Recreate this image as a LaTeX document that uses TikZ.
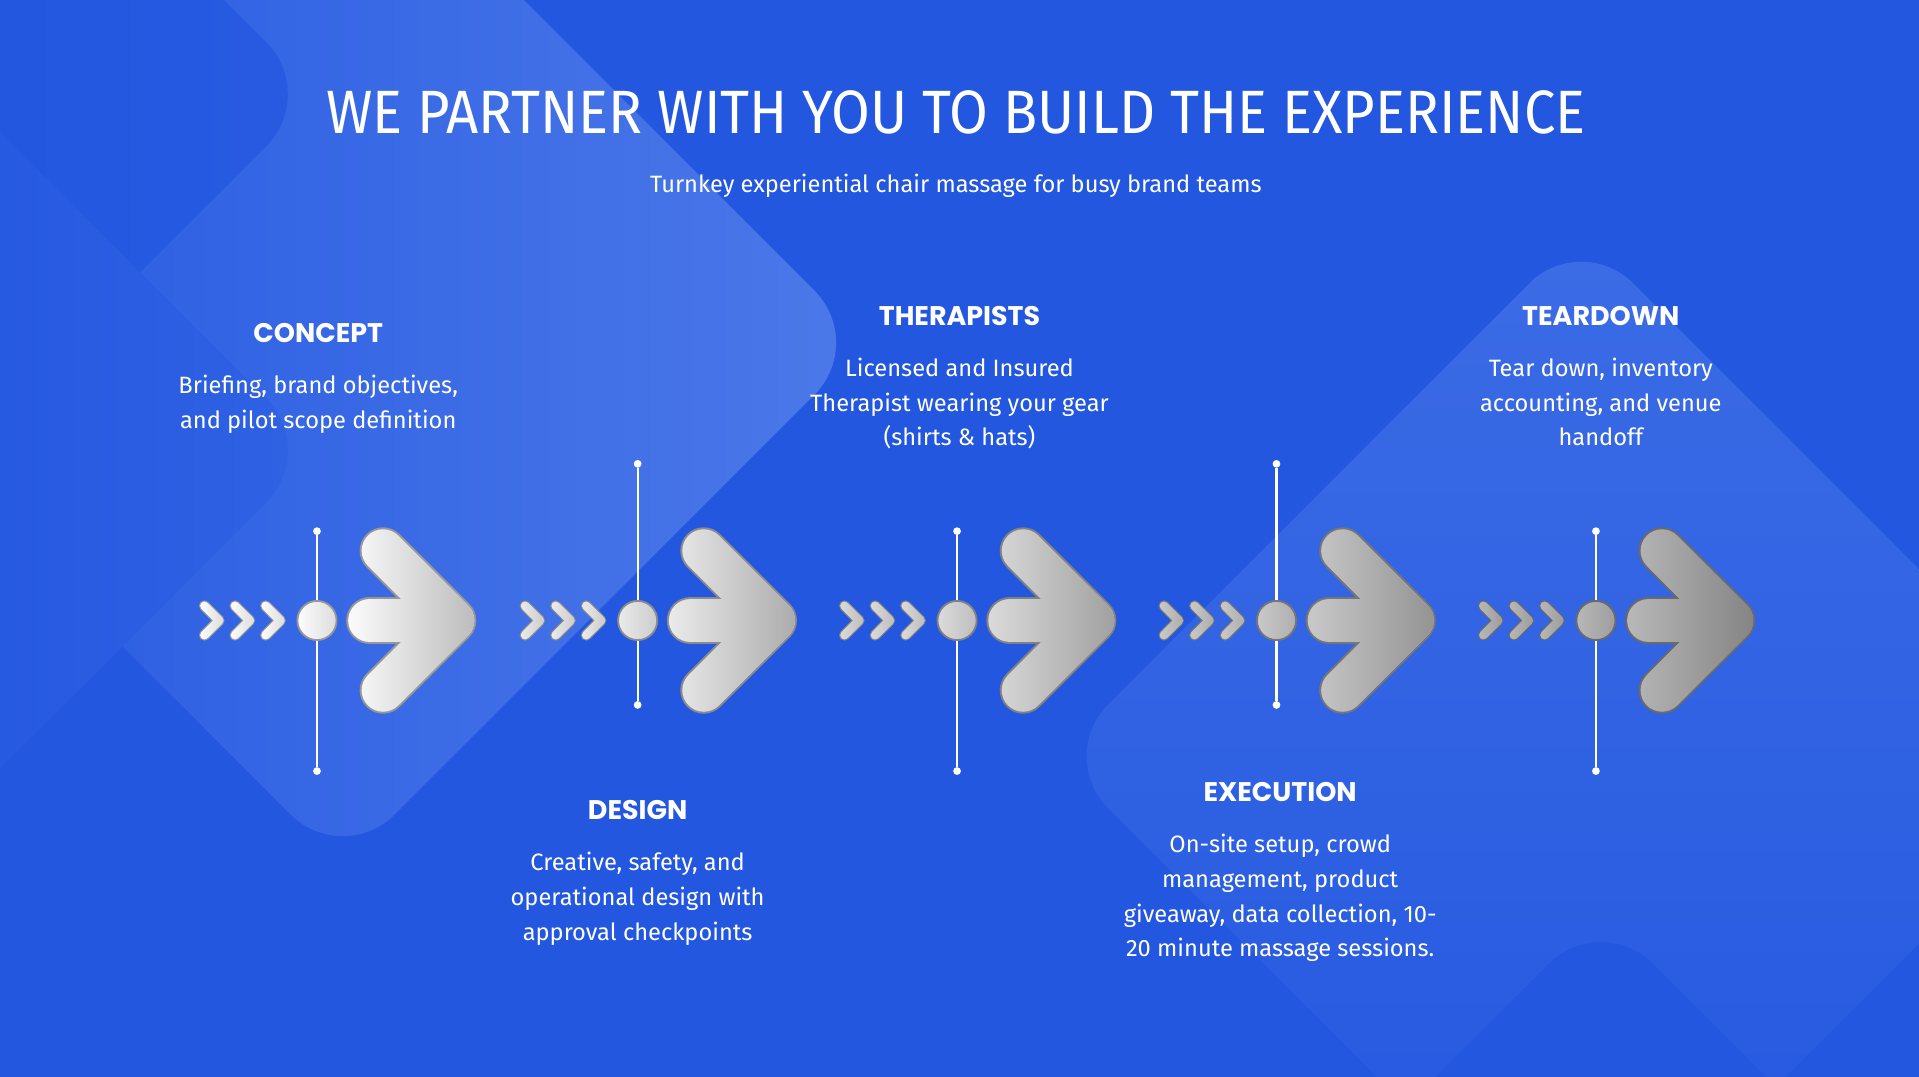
\documentclass[tikz,border=0pt]{standalone}
\usepackage{fontspec}
\setmainfont{Fira Sans}
\newfontfamily\titlefont[FakeStretch=0.917]{Fira Sans}
\newfontfamily\headfont{Poppins}
\usepackage{tikz}
\usetikzlibrary{fadings,shadings}

\definecolor{bgblue}{RGB}{35,87,224}
\definecolor{tileA}{RGB}{76,121,233}
\definecolor{tileB}{RGB}{48,97,227}
\definecolor{tileC}{RGB}{64,111,231}
\definecolor{tileD}{RGB}{72,118,232}
\definecolor{tileE}{RGB}{58,104,229}

\pgfdeclarehorizontalshading{shadeB}{100bp}{color(0bp)=(bgblue); color(60bp)=(bgblue); color(100bp)=(tileB)}
\pgfdeclarehorizontalshading{shadeC}{100bp}{color(0bp)=(bgblue); color(55bp)=(bgblue); color(100bp)=(tileC)}
\pgfdeclareverticalshading{shadeD}{100bp}{color(0bp)=(bgblue); color(25bp)=(bgblue); color(100bp)=(tileD)}
\pgfdeclareverticalshading{shadeE}{100bp}{color(0bp)=(bgblue); color(80bp)=(bgblue); color(100bp)=(tileE)}

\tikzfading[name=fadeleft, left color=transparent!100, right color=transparent!0]

% one step: #1 name, #2 x, #3 light grey, #4 dark grey, #5 top of stem, #6 foot of stem
\newcommand{\stagemark}[6]{%
  \definecolor{lt#1}{gray}{#3}%
  \definecolor{dk#1}{gray}{#4}%
  \colorlet{md#1}{lt#1!50!dk#1}%
  \colorlet{ln#1}{dk#1!80!black}%
  \node [knob] (U#1) at (#2,#5) {};
  \node [knob] (B#1) at (#2,#6) {};
  \draw [stem] (U#1) -- (B#1);
  \foreach \d in {80,55,30}
    \draw [chev, draw=ln#1, postaction={draw=lt#1, line width=4.2pt},
           postaction={draw=md#1, line width=4.2pt, path fading=fadeleft}]
      (#2-\d-12,495) -- (#2-\d,507) -- (#2-\d-12,519);
  \node [hub, left color=lt#1, right color=md#1, draw=ln#1] (P#1) at (#2,507) {};
  \draw [bigarrow, draw=ln#1, postaction={draw=lt#1, line width=21pt},
         postaction={draw=dk#1, line width=21pt, path fading=fadeleft}]
    (#2+43,507) -- (#2+111,507) (#2+54,450) -- (#2+111,507) -- (#2+54,564);
}

\tikzset{
  knob/.style={circle, fill=white, inner sep=0pt, minimum size=3.8pt},
  stem/.style={white, line width=1pt},
  hub/.style={circle, inner sep=0pt, minimum size=19.2pt, line width=0.9pt},
  chev/.style={line width=5.4pt, line cap=round, line join=round},
  bigarrow/.style={line width=23pt, line cap=round, line join=round},
  headtxt/.style={text=white, font=\headfont\bfseries\fontsize{13.2}{15}\selectfont, anchor=base, inner sep=0pt},
  desctxt/.style={text=white, font=\fontsize{11.6}{17.1}\selectfont, align=center, anchor=north, inner sep=0pt}
}

\begin{document}
\begin{tikzpicture}[x=0.6pt, y=-0.6pt]
    \useasboundingbox (0,0) rectangle (1568,880);
    \clip (0,0) rectangle (1568,880);
    \fill [bgblue] (0,0) rectangle (1568,880);
    % background tiles
    \shade [left color=bgblue, right color=tileA, rounded corners=36pt]
      (280,-148) -- (708,280) -- (280,708) -- (-148,280) -- cycle;
    \shade [shading=shadeB, rounded corners=36pt]
      (-168,-351) -- (260,77) -- (-168,505) -- (-596,77) -- cycle;
    \shade [shading=shadeC, rounded corners=36pt]
      (-168,-60) -- (260,368) -- (-168,796) -- (-596,368) -- cycle;
    \shade [shading=shadeD, rounded corners=36pt]
      (1292,189) -- (1721,618) -- (1292,1047) -- (863,618) -- cycle;
    \shade [shading=shadeE, rounded corners=36pt]
      (1308,745) -- (1736,1173) -- (1308,1601) -- (880,1173) -- cycle;

    \node [font=\titlefont\fontsize{30}{36}\selectfont, text=white, anchor=base] (T) at (781,109) {WE PARTNER WITH YOU TO BUILD THE EXPERIENCE};
    \node [font=\fontsize{11.6}{14}\selectfont, text=white, anchor=base] (ST) at (781,157) {Turnkey experiential chair massage for busy brand teams};

    \stagemark{1}{259}{0.99}{0.74}{434}{630}
    \stagemark{2}{521}{0.92}{0.68}{379}{576}
    \stagemark{3}{782}{0.86}{0.63}{434}{630}
    \stagemark{4}{1043}{0.79}{0.58}{379}{576}
    \stagemark{5}{1304}{0.72}{0.52}{434}{630}

    \node [headtxt] (H1) at (260,280) {CONCEPT};
    \node [desctxt] (D1) at (260,306) {Briefing, brand objectives,\\and pilot scope definition};
    \node [headtxt] (H2) at (521,670) {DESIGN};
    \node [desctxt] (D2) at (521,696) {Creative, safety, and\\operational design with\\approval checkpoints};
    \node [headtxt] (H3) at (784,266) {THERAPISTS};
    \node [desctxt] (D3) at (784,292) {Licensed and Insured\\Therapist wearing your gear\\(shirts \& hats)};
    \node [headtxt] (H4) at (1046,655) {EXECUTION};
    \node [desctxt] (D4) at (1046,681) {On-site setup, crowd\\management, product\\giveaway, data collection, 10-\\20 minute massage sessions.};
    \node [headtxt] (H5) at (1308,266) {TEARDOWN};
    \node [desctxt] (D5) at (1308,292) {Tear down, inventory\\accounting, and venue\\handoff};
\end{tikzpicture}
\end{document}
